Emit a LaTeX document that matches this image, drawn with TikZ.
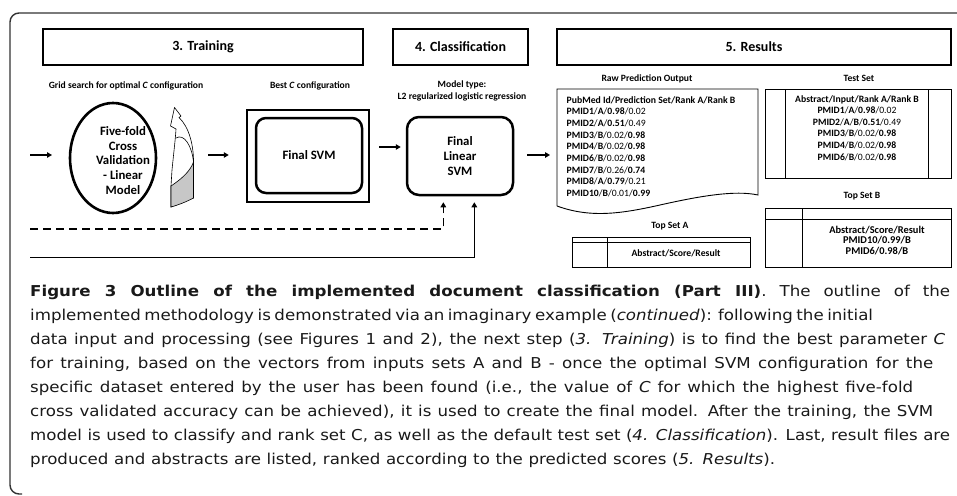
\documentclass[tikz,border=0pt]{standalone}
\usepackage{fontspec}
\setmainfont{Carlito}
\newfontfamily\capfont[FakeStretch=1.11]{DejaVu Sans}
\usetikzlibrary{arrows.meta,shapes.geometric}
\newcommand{\capline}[2]{\hbox to #1pt{#2}}
\begin{document}
\begin{tikzpicture}[x=1pt,y=-1pt,
  lbl/.style={font=\bfseries\fontsize{9.6}{11.5}\selectfont, inner sep=0pt},
  hdr/.style={draw, line width=1.3pt, font=\bfseries\fontsize{14}{16}\selectfont, inner sep=0pt, minimum height=36pt},
  arr/.style={line width=1.3pt, -{Triangle[length=5pt,width=5.5pt]}},
  bigtxt/.style={font=\bfseries\fontsize{12.8}{14.8}\selectfont, align=center, inner sep=0pt},
  tbl/.style={line width=0.9pt},
  rl/.style={font=\fontsize{9.7}{11.6}\selectfont, inner sep=0pt, anchor=base west},
  tl/.style={font=\fontsize{9.7}{11.6}\selectfont, inner sep=0pt, anchor=base},
  captxt/.style={font=\capfont\fontsize{15}{24}\selectfont, inner sep=0pt, anchor=base west, text=black!90},
]
\useasboundingbox (0,0) rectangle (957,495);
% frame
\draw[line width=1.4pt, black!80, rounded corners=9pt] (960,13) -- (10,13) -- (10,494) -- (22,494);

% headers
\node[hdr, minimum width=320pt] (h3) at (203,47) {3. Training};
\node[hdr, minimum width=135pt] (h4) at (460.5,47) {4. Classification};
\node[hdr, minimum width=394pt] (h5) at (754,47) {5. Results};

% labels
\node[lbl] (l1) at (126,86) {Grid search for optimal \textit{C} configuration};
\node[lbl] (l2) at (310,86) {Best \textit{C} configuration};
\node[lbl, align=center, font=\bfseries\fontsize{9.6}{12}\selectfont] (l3) at (462,91) {Model type:\\L2 regularized logistic regression};
\node[lbl] (l4) at (647,79) {Raw Prediction Output};
\node[lbl] (l5) at (859,78) {Test Set};
\node[lbl] (l6) at (670,226) {Top Set A};
\node[lbl] (l7) at (862,196) {Top Set B};

% ellipse
\node[draw, ellipse, line width=2.6pt, minimum width=86pt, minimum height=110pt] (ell) at (113,158) {};
\node[bigtxt] (ellt) at (123,160.5) {Five-fold\\Cross\\Validation\\- Linear\\Model};

% curved arrow
\draw[line width=0.6pt, fill=white] (174.5,107.5) -- (181,116) -- (179,117.5) .. controls (189,127) and (194,145) .. (193.5,165) -- (193.5,198) -- (171,207) -- (171,186) -- (172,170) .. controls (174,150) and (175.5,138) .. (176,129) -- (170.5,126) -- cycle;
\draw[line width=0.6pt, fill=black!22] (171,186) .. controls (180,180) and (190,172) .. (193.5,162) -- (193.5,198) .. controls (186,202) and (178,205) .. (171,207) -- cycle;
\draw[line width=0.6pt] (176,138) .. controls (184,133) and (192,146) .. (193.5,162);

% Final SVM
\node[draw, line width=2.5pt, minimum width=122pt, minimum height=92pt] (svmo) at (308,156) {};
\node[draw, rounded corners=10pt, line width=2.5pt, minimum width=106pt, minimum height=75pt, bigtxt] (svm) at (309,155.5) {Final SVM};

% Final Linear SVM
\node[draw, rounded corners=12pt, line width=2.5pt, minimum width=106pt, minimum height=78pt, bigtxt, font=\bfseries\fontsize{12.8}{15}\selectfont] (fls) at (460,156) {Final\\Linear\\SVM};

% raw prediction document
\draw[tbl] (557,206) -- (557,89) -- (758,89) -- (758,195) .. controls (735,190) and (700,196) .. (660,205) .. controls (620,214) and (590,218) .. (557,206);
\coordinate (rawin) at (557,155);
\coordinate (in1) at (30,155);

\foreach \t [count=\i] in {
  {\bfseries PubMed Id/Prediction Set/Rank A/Rank B},
  {\textbf{PMID1}/\textbf{A}/\textbf{0.98}/0.02},
  {\textbf{PMID2}/\textbf{A}/\textbf{0.51}/0.49},
  {\textbf{PMID3}/\textbf{B}/0.02/\textbf{0.98}},
  {\textbf{PMID4}/\textbf{B}/0.02/\textbf{0.98}},
  {\textbf{PMID6}/\textbf{B}/0.02/\textbf{0.98}},
  {\textbf{PMID7}/\textbf{B}/0.26/\textbf{0.74}},
  {\textbf{PMID8}/\textbf{A}/\textbf{0.79}/0.21},
  {\textbf{PMID10}/\textbf{B}/0.01/\textbf{0.99}}}
  \node[rl] (rp\i) at (566.5,103.3+11.67*\i-11.67) {\t};

% test set table
\draw[tbl] (765,89) rectangle (951,178);
\draw[tbl] (785,89) -- (785,178) (928,89) -- (928,178);
\foreach \t [count=\i] in {
  {\bfseries Abstract/Input/Rank A/Rank B},
  {\textbf{PMID1}/\textbf{A}/\textbf{0.98}/0.02},
  {\textbf{PMID2}/\textbf{A}/\textbf{B}/\textbf{0.51}/0.49},
  {\textbf{PMID3}/\textbf{B}/0.02/\textbf{0.98}},
  {\textbf{PMID4}/\textbf{B}/0.02/\textbf{0.98}},
  {\textbf{PMID6}/\textbf{B}/0.02/\textbf{0.98}}}
  \node[tl] (ts\i) at (857,102+11.6*\i-11.6) {\t};

% top set A
\draw[tbl] (572,237) rectangle (750,267);
\draw[tbl] (572,242) -- (750,242) (607,237) -- (607,267);
\node[tl, font=\bfseries\fontsize{9.7}{11.6}\selectfont] (ta1) at (676,256.5) {Abstract/Score/Result};

% top set B
\draw[tbl] (765,208) rectangle (951,267);
\draw[tbl] (765,219) -- (951,219) (802,208) -- (802,267);
\foreach \t [count=\i] in {{Abstract/Score/Result},{PMID10/0.99/B},{PMID6/0.98/B}}
  \node[tl, font=\bfseries\fontsize{10.4}{12}\selectfont] (tb\i) at (877,233.5+10.3*\i-10.3) {\t};

% arrows
\draw[arr] (in1) -- (52,155);
\draw[arr, shorten <=51pt, shorten >=17pt] ([yshift=3pt]ell.east) -- ([yshift=3pt]ell.east -| svmo.west);
\draw[arr, shorten <=9pt, shorten >=5pt] ([yshift=9pt]svmo.east) -- ([yshift=9pt]fls.west);
\draw[arr, shorten <=13pt, shorten >=7pt] ([yshift=1pt]fls.east) -- (rawin);
\coordinate (dstart) at (30,229);
\coordinate (sstart) at (30,257.5);
\draw[arr, dash pattern=on 8pt off 5pt, shorten >=6pt] (dstart) -| ([xshift=-16.7pt]fls.south);
\draw[arr, shorten >=6pt] (sstart) -| ([xshift=14.3pt]fls.south);

% caption
\node[captxt] (c1) at (30,296) {\capline{920}{\textbf{Figure 3 Outline of the implemented document classification (Part III)}. The outline of the}};
\node[captxt] (c2) at (30,320) {\capline{827}{implemented methodology is demonstrated via an imaginary example (\textit{continued}): following the initial}};
\node[captxt] (c3) at (30,344) {\capline{915}{data input and processing (see Figures 1 and 2), the next step (\textit{3. Training}) is to find the best parameter \textit{C}}};
\node[captxt] (c4) at (30,368) {\capline{903}{for training, based on the vectors from inputs sets A and B - once the optimal SVM configuration for the}};
\node[captxt] (c5) at (30,392) {\capline{883}{specific dataset entered by the user has been found (i.e., the value of \textit{C} for which the highest five-fold}};
\node[captxt] (c6) at (30,416) {\capline{903}{cross validated accuracy can be achieved), it is used to create the final model. After the training, the SVM}};
\node[captxt] (c7) at (30,440) {\capline{920}{model is used to classify and rank set C, as well as the default test set (\textit{4. Classification}). Last, result files are}};
\node[captxt] (c8) at (30,464) {\capline{745}{produced and abstracts are listed, ranked according to the predicted scores (\textit{5. Results}).}};
\end{tikzpicture}
\end{document}
